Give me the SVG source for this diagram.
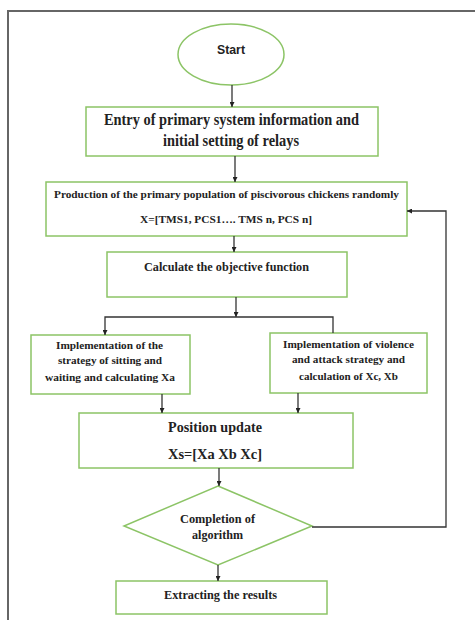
<svg xmlns="http://www.w3.org/2000/svg" width="475" height="620" viewBox="0 0 475 620">
<defs>
<marker id="ah" viewBox="0 0 10 10" refX="10" refY="5" markerWidth="5" markerHeight="5" orient="auto" markerUnits="userSpaceOnUse">
<path d="M0,0 L10,5 L0,10 z" fill="#222"/>
</marker>
<style>
.box{fill:#fff;stroke:#8cc466;stroke-width:1.5}
.t{font-family:"Liberation Serif","Times New Roman",serif;font-weight:bold;fill:#222;text-anchor:middle}
.s{font-family:"Liberation Sans",Arial,sans-serif;font-weight:bold;fill:#222;text-anchor:middle}
.c{fill:none;stroke:#333;stroke-width:1.3}
</style>
</defs>
<rect width="475" height="620" fill="#fff"/>
<path d="M8,620 V11 H475" fill="none" stroke="#666" stroke-width="2"/>

<g id="start">
<ellipse class="box" cx="231" cy="54.5" rx="53" ry="30.5"/>
<text class="s" x="231" y="54" font-size="13" textLength="28" lengthAdjust="spacingAndGlyphs">Start</text>
</g>
<g id="entry">
<rect class="box" x="86" y="107" width="292" height="49"/>
<text class="t" x="231.5" y="125" font-size="16" textLength="255" lengthAdjust="spacingAndGlyphs">Entry of primary system information and</text>
<text class="t" x="231" y="145.5" font-size="16" textLength="136" lengthAdjust="spacingAndGlyphs">initial setting of relays</text>
</g>
<g id="production">
<rect class="box" x="46" y="182" width="361" height="54"/>
<text class="t" x="226.5" y="198" font-size="11" textLength="345" lengthAdjust="spacingAndGlyphs">Production of the primary population of piscivorous chickens randomly</text>
<text class="t" x="226" y="222.5" font-size="11" textLength="172" lengthAdjust="spacingAndGlyphs">X=[TMS1, PCS1…. TMS n, PCS n]</text>
</g>
<g id="objective">
<rect class="box" x="107" y="252" width="240" height="45"/>
<text class="t" x="226.5" y="270.5" font-size="12" textLength="165" lengthAdjust="spacingAndGlyphs">Calculate the objective function</text>
</g>
<g id="sitting">
<rect class="box" x="31" y="335" width="159" height="59"/>
<text class="t" x="109.5" y="349" font-size="11" textLength="107" lengthAdjust="spacingAndGlyphs">Implementation of the</text>
<text class="t" x="110" y="364" font-size="11" textLength="104" lengthAdjust="spacingAndGlyphs">strategy of sitting and</text>
<text class="t" x="110" y="381" font-size="11" textLength="130" lengthAdjust="spacingAndGlyphs">waiting and calculating Xa</text>
</g>
<g id="violence">
<rect class="box" x="270" y="333" width="157" height="60"/>
<text class="t" x="348.5" y="348" font-size="11" textLength="131" lengthAdjust="spacingAndGlyphs">Implementation of violence</text>
<text class="t" x="348.5" y="363" font-size="11" textLength="113" lengthAdjust="spacingAndGlyphs">and attack strategy and</text>
<text class="t" x="348.5" y="380" font-size="11" textLength="99" lengthAdjust="spacingAndGlyphs">calculation of Xc, Xb</text>
</g>
<g id="position">
<rect class="box" x="79" y="413" width="274" height="55"/>
<text class="t" x="215" y="432" font-size="15" textLength="94" lengthAdjust="spacingAndGlyphs">Position update</text>
<text class="t" x="215" y="459" font-size="15" textLength="94" lengthAdjust="spacingAndGlyphs">Xs=[Xa Xb Xc]</text>
</g>
<g id="completion">
<polygon class="box" points="218,486 312,526 218,565 124,526"/>
<text class="t" x="217.5" y="523" font-size="12" textLength="75" lengthAdjust="spacingAndGlyphs">Completion of</text>
<text class="t" x="217.5" y="539" font-size="12" textLength="51" lengthAdjust="spacingAndGlyphs">algorithm</text>
</g>
<g id="results">
<rect class="box" x="116" y="581" width="211" height="33"/>
<text class="t" x="220.5" y="599" font-size="12" textLength="113" lengthAdjust="spacingAndGlyphs">Extracting the results</text>
</g>

<g id="connectors">
<path class="c" d="M232,85 V107" marker-end="url(#ah)"/>
<path class="c" d="M235,156 V182" marker-end="url(#ah)"/>
<path class="c" d="M234,236 V252" marker-end="url(#ah)"/>
<path class="c" d="M236,297 V317" marker-end="url(#ah)"/>
<path class="c" d="M333,333 V317 H105 V335" marker-end="url(#ah)"/>
<path class="c" d="M162,394 V413" marker-end="url(#ah)"/>
<path class="c" d="M298,393 V413" marker-end="url(#ah)"/>
<path class="c" d="M219,468 V486" marker-end="url(#ah)"/>
<path class="c" d="M218,565 V581" marker-end="url(#ah)"/>
<path class="c" d="M312,527 H446 V211 H407" marker-end="url(#ah)"/>
</g>
</svg>
